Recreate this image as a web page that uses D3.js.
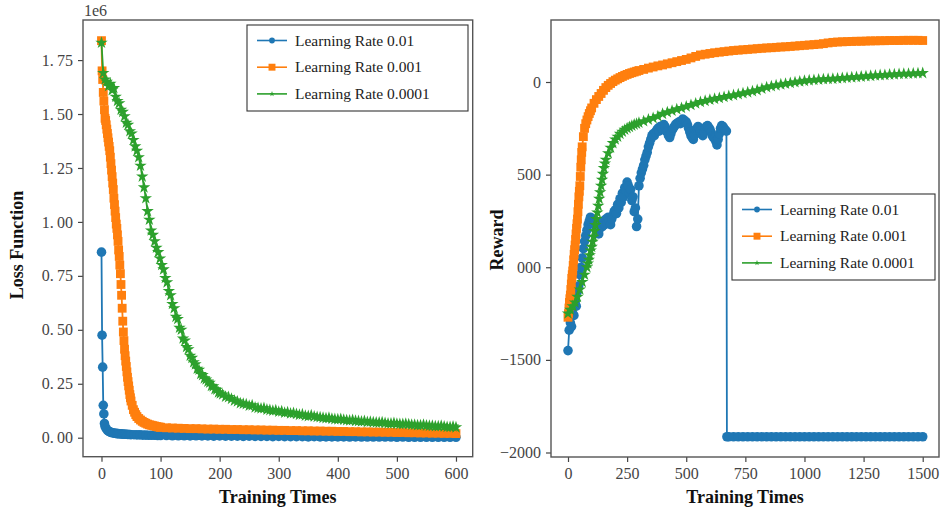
<!DOCTYPE html>
<html><head><meta charset="utf-8">
<script src="https://cdn.jsdelivr.net/npm/d3@7"></script>
<style>body{margin:0;background:#fff}svg{display:block}</style>
</head><body>
<svg id="c" width="940" height="512"></svg>
<script>
// ---------------- DATA ----------------
const seriesNames = ['Learning Rate 0.01', 'Learning Rate 0.001', 'Learning Rate 0.0001'];

// Left panel: loss (x1e6) vs training times
const lossX = [0,1,2,3,4,5,6].concat(d3.range(8, 51, 2), d3.range(55, 100, 5), d3.range(100, 601, 10));
const lossLR01 = [0.86,0.475,0.327,0.15,0.11,0.066,0.052,
  0.042,0.034,0.030,0.027,0.025,0.023,0.022,0.021,0.020,0.019,0.019,0.018,0.018,0.017,0.017,0.016,0.016,0.016,0.015,0.015,0.015,0.014,
  0.014,0.013,0.013,0.012,0.012,0.011,0.011,0.011,0.010,
  0.010,0.010,0.009,0.009,0.009,0.008,0.009,0.008,0.008,0.007,0.008,0.007,0.007,0.007,0.006,0.007,0.006,0.006,0.006,0.005,
  0.006,0.005,0.005,0.005,0.005,0.004,0.005,0.004,0.004,0.004,0.004,0.004,0.003,0.004,0.003,0.003,0.003,0.003,0.003,0.003,
  0.002,0.003,0.002,0.002,0.002,0.002,0.002,0.002,0.002,0.002,0.002];

const lossX001 = d3.range(0, 51, 1).concat(d3.range(52, 61, 2), d3.range(63, 100, 3), d3.range(100, 601, 10));
const lossLR001 = [1.84,1.70,1.66,1.60,1.56,1.52,1.48,1.47,1.45,1.43,
  1.41,1.39,1.37,1.35,1.33,1.30,1.27,1.24,1.21,1.18,
  1.15,1.11,1.08,1.05,1.02,0.99,0.97,0.94,0.91,0.87,
  0.84,0.80,0.76,0.71,0.66,0.60,0.54,0.49,0.45,0.41,
  0.38,0.355,0.33,0.305,0.28,0.26,0.24,0.22,0.20,0.185,0.17,
  0.15,0.13,0.118,0.107,0.098,
  0.089,0.082,0.076,0.071,0.067,0.063,0.060,0.058,0.056,0.054,0.052,0.050,0.049,
  0.048,0.046,0.045,0.044,0.043,0.042,0.042,0.041,0.040,0.040,0.039,0.039,0.038,0.038,0.037,0.037,0.036,0.036,0.035,0.035,
  0.034,0.034,0.033,0.033,0.032,0.032,0.031,0.031,0.030,0.030,0.029,0.029,0.028,0.028,0.027,0.027,0.026,0.026,0.025,0.025,
  0.024,0.024,0.023,0.023,0.022,0.022,0.021,0.021,0.020,0.020,0.019];

const lossX0001 = d3.range(0, 202, 3).concat(d3.range(205, 601, 5));
const lossLR0001 = [1.83,1.69,1.66,1.65,1.63,1.64,1.61,1.62,1.58,1.56,
  1.55,1.52,1.51,1.49,1.46,1.45,1.42,1.41,1.38,1.35,
  1.33,1.30,1.26,1.21,1.16,1.11,1.05,1.01,0.96,0.94,
  0.91,0.88,0.86,0.83,0.80,0.78,0.74,0.72,0.68,0.66,
  0.62,0.60,0.56,0.55,0.51,0.50,0.46,0.45,0.42,0.41,
  0.38,0.37,0.35,0.34,0.32,0.315,0.295,0.29,0.275,0.27,
  0.26,0.255,0.24,0.238,0.225,0.222,0.21,0.205,
  0.20,0.19,0.188,0.18,0.172,0.168,0.16,0.157,0.155,0.148,
  0.15,0.14,0.138,0.135,0.137,0.13,0.128,0.125,0.127,0.12,
  0.122,0.116,0.118,0.112,0.114,0.11,0.106,0.108,0.102,0.10,
  0.104,0.098,0.096,0.095,0.092,0.09,0.092,0.088,0.086,0.085,
  0.087,0.083,0.081,0.08,0.082,0.078,0.077,0.075,0.077,0.073,
  0.074,0.072,0.07,0.07,0.072,0.068,0.066,0.066,0.068,0.065,
  0.063,0.063,0.065,0.062,0.06,0.06,0.058,0.058,0.06,0.056,
  0.055,0.055,0.053,0.053,0.055,0.052,0.05,0.05,0.052,0.048];

// Right panel: reward vs training times
const rewardX001 = d3.range(0, 61, 2).concat(d3.range(65, 101, 5), d3.range(110, 300, 10), d3.range(300, 1501, 20));
const rewardLR001 = [-1270,-1250,-1220,-1190,-1170,-1150,-1120,-1090,-1060,-1040,
  -1020,-990,-960,-930,-905,-880,-850,-820,-790,-765,
  -740,-700,-660,-620,-590,-560,-510,-460,-420,-380,-350,
  -295,-250,-225,-205,-187,-170,-155,-140,
  -115,-95,-78,-62,-45,-30,-18,-8,2,10,17,24,30,36,41,46,50,54,58,
  62,68,75,81,87,92,98,104,110,116,122,130,138,146,150,154,158,161,164,167,
  170,172,174,176,178,180,182,184,185,187,189,190,192,194,196,198,200,202,204,207,
  211,214,216,217,218,219,220,220,221,222,222,223,223,224,224,224,225,225,225,225,224];

const rewardX0001 = d3.range(0, 81, 10).concat(d3.range(84, 161, 4), d3.range(170, 300, 10), d3.range(300, 1501, 20));
const rewardLR0001 = [-1250,-1230,-1210,-1190,-1160,-1120,-1080,-1040,-1000,
  -980,-960,-935,-910,-890,-862,-835,-805,-772,-740,
  -705,-668,-630,-595,-560,-528,-496,-465,-440,-420,
  -385,-355,-330,-310,-295,-280,-268,-258,-250,-243,-236,-230,-225,
  -220,-212,-203,-195,-185,-172,-163,-155,-147,-140,-132,-124,-116,-108,-102,-96,-91,-86,-81,-76,
  -71,-66,-61,-56,-50,-44,-36,-28,-23,-18,-13,-9,-5,-1,3,6,9,11,13,15,
  16,17,19,21,23,25,27,29,31,33,35,37,38,40,41,43,44,45,46,47,48];

const rewardX01 = d3.range(0, 671, 5).concat([672], d3.range(680, 1501, 20));
const rewardLR01 = [-1450,-1340,-1300,-1320,-1250,-1260,-1190,-1210,-1130,-1100,
  -1040,-1000,-950,-900,-860,-830,-800,-770,-750,-730,
  -760,-740,-770,-750,-800,-780,-820,-790,-770,-780,
  -750,-770,-740,-760,-730,-750,-770,-740,-720,-700,
  -690,-710,-660,-680,-630,-650,-600,-620,-570,-590,
  -540,-560,-600,-580,-640,-620,-700,-680,-780,-740,
  -560,-520,-490,-470,-450,-420,-400,-380,-350,-330,
  -310,-290,-280,-290,-270,-260,-250,-265,-240,-250,
  -255,-230,-240,-265,-270,-290,-300,-280,-260,-250,
  -240,-230,-225,-220,-215,-225,-210,-200,-205,-215,
  -215,-230,-250,-270,-290,-300,-310,-285,-260,-250,
  -240,-250,-265,-280,-290,-270,-250,-240,-235,-245,
  -255,-270,-290,-300,-305,-320,-340,-310,-280,-250,
  -235,-240,-250,-260,-265,
  -1915,
  -1915,-1915,-1915,-1915,-1915,-1915,-1915,-1915,-1915,-1915,-1915,-1915,-1915,-1915,
  -1915,-1915,-1915,-1915,-1915,-1915,-1915,-1915,-1915,-1915,-1915,-1915,-1915,-1915,
  -1915,-1915,-1915,-1915,-1915,-1915,-1915,-1915,-1915,-1915,-1915,-1915,-1915,-1915];

// Tick labels
const lossXTicks = [0,100,200,300,400,500,600];
const lossYTicks = [0,0.25,0.5,0.75,1.0,1.25,1.5,1.75];
const lossYLabels = ['0.\u200900','0.\u200925','0.\u200950','0.\u200975','1.\u200900','1.\u200925','1.\u200950','1.\u200975'];
const rewardXTicks = [0,250,500,750,1000,1250,1500];
const rewardYTicks = [0,-500,-1000,-1500,-2000];
const rewardYLabels = ['0','500','000','\u22121500','\u22122000'];

// ---------------- DRAW ----------------
const colors = ['#1f77b4', '#ff7f0e', '#2ca02c'];
const symbols = [d3.symbolCircle, d3.symbolSquare, d3.symbolStar];
const symSizes = [72, 78, 48];
const legSizes = [26, 48, 10];
const svg = d3.select('#c');
const tickFont = 'Liberation Serif, Times New Roman, serif';

function panel(cfg) {
  const {left, right, top, bottom, xDom, yDom} = cfg;
  const x = d3.scaleLinear().domain(xDom).range([left, right]);
  const y = d3.scaleLinear().domain(yDom).range([bottom, top]);
  const g = svg.append('g');

  cfg.series.forEach((s, i) => {
    const pts = s.x.map((xv, k) => [xv, s.y[k]]);
    g.append('path').datum(pts)
      .attr('d', d3.line().x(d => x(d[0])).y(d => y(d[1])))
      .attr('fill', 'none').attr('stroke', colors[i]).attr('stroke-width', 1.8);
    g.append('g').selectAll('path').data(pts).join('path')
      .attr('transform', d => `translate(${x(d[0])},${y(d[1])})`)
      .attr('d', d3.symbol().type(symbols[i]).size(symSizes[i]))
      .attr('fill', colors[i]);
  });

  const xa = g.append('g').attr('transform', `translate(0,${bottom})`)
    .call(d3.axisBottom(x).tickValues(cfg.xTicks).tickFormat(d3.format('d')).tickSize(5).tickSizeOuter(0).tickPadding(6));
  const ya = g.append('g').attr('transform', `translate(${left},0)`)
    .call(d3.axisLeft(y).tickValues(cfg.yTicks).tickFormat((d, i) => cfg.yLabels[i]).tickSize(5).tickSizeOuter(0).tickPadding(5));
  [xa, ya].forEach(a => {
    a.select('.domain').remove();
    a.selectAll('line').attr('stroke', '#444').attr('stroke-width', 1.2);
    a.selectAll('text').attr('font-family', tickFont).attr('font-size', 16).attr('fill', '#444');
  });

  g.append('rect').attr('x', left).attr('y', top).attr('width', right - left).attr('height', bottom - top)
    .attr('fill', 'none').attr('stroke', '#555').attr('stroke-width', 1.4);

  g.append('text').attr('x', (left + right) / 2).attr('y', 503).attr('text-anchor', 'middle')
    .attr('font-family', tickFont).attr('font-weight', 'bold').attr('font-size', 18).attr('fill', '#111')
    .text('Training Times');
  g.append('text').attr('transform', `translate(${cfg.yLabelX},${cfg.yLabelY}) rotate(-90)`).attr('text-anchor', 'middle')
    .attr('font-family', tickFont).attr('font-weight', 'bold').attr('font-size', 18).attr('fill', '#111')
    .text(cfg.yLabel);

  const L = cfg.legend;
  const lg = g.append('g');
  lg.append('rect').attr('x', L.x).attr('y', L.y).attr('width', L.w).attr('height', L.h)
    .attr('fill', '#fff').attr('stroke', '#333').attr('stroke-width', 1.1);
  seriesNames.forEach((name, i) => {
    const yy = L.y + 15.5 + i * 26.7;
    lg.append('line').attr('x1', L.x + 10).attr('x2', L.x + 40).attr('y1', yy).attr('y2', yy)
      .attr('stroke', colors[i]).attr('stroke-width', 1.6);
    lg.append('path').attr('transform', `translate(${L.x + 25},${yy})`)
      .attr('d', d3.symbol().type(symbols[i]).size(legSizes[i])).attr('fill', colors[i]);
    lg.append('text').attr('x', L.x + 48).attr('y', yy + 5).attr('font-family', tickFont)
      .attr('font-size', 15.5).attr('fill', '#222').text(name);
  });
  return {x, y, g};
}

const P1 = panel({
  left: 83, right: 472.7, top: 20, bottom: 456.7,
  xDom: [-31.3, 628.3], yDom: [-0.088, 1.9357],
  series: [{x: lossX, y: lossLR01}, {x: lossX001, y: lossLR001}, {x: lossX0001, y: lossLR0001}],
  xTicks: lossXTicks, yTicks: lossYTicks, yLabels: lossYLabels,
  yLabel: 'Loss Function', yLabelX: 23, yLabelY: 245,
  legend: {x: 247, y: 25, w: 221, h: 86}
});
P1.g.append('text').attr('x', 84).attr('y', 16).attr('font-family', tickFont).attr('font-size', 16)
  .attr('fill', '#444').text('1e6');

panel({
  left: 551, right: 939, top: 20, bottom: 457,
  xDom: [-71.9, 1568.9], yDom: [-2024.3, 334.7],
  series: [{x: rewardX01, y: rewardLR01}, {x: rewardX001, y: rewardLR001}, {x: rewardX0001, y: rewardLR0001}],
  xTicks: rewardXTicks, yTicks: rewardYTicks, yLabels: rewardYLabels,
  yLabel: 'Reward', yLabelX: 503, yLabelY: 240,
  legend: {x: 732, y: 194, w: 203, h: 86}
});
</script>
</body></html>
